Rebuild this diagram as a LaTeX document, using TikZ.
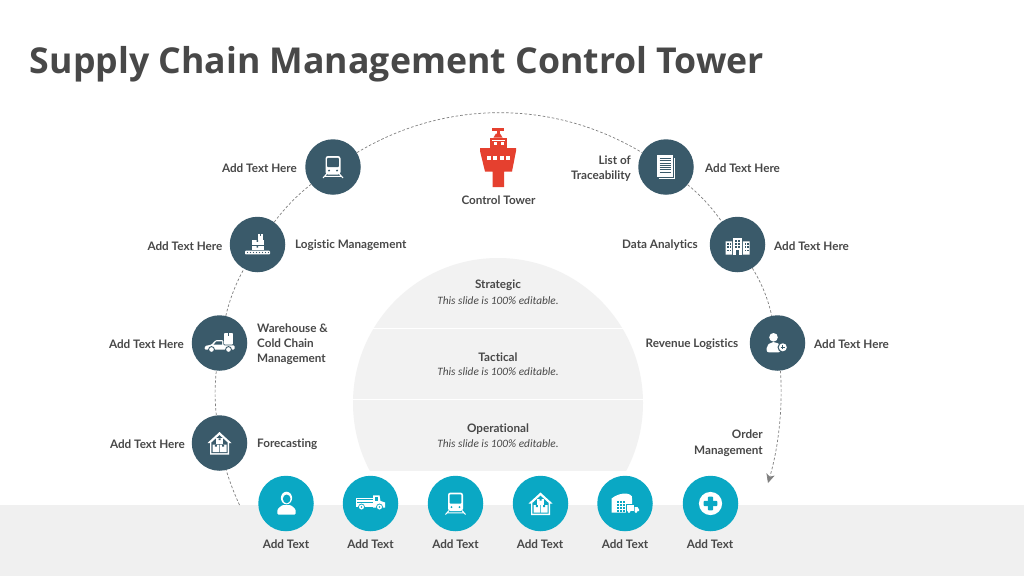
\documentclass[tikz,border=0pt]{standalone}
\usepackage{fontspec}
\setmainfont[Ligatures=CommonOff]{Lato}
\newfontfamily\titlefont{Open Sans}
\newfontfamily\itfont{Carlito}
\usetikzlibrary{arrows.meta}
\definecolor{slate}{HTML}{3A5A6A}
\definecolor{teal2}{HTML}{0AA8C4}
\definecolor{band}{HTML}{F0F0F0}
\definecolor{semi}{HTML}{F2F2F2}
\definecolor{ink}{HTML}{484848}
\definecolor{towerred}{HTML}{E5402F}
\definecolor{dashc}{HTML}{7F7F7F}
\newcommand\ictrain[1]{%
 \fill[white,rounded corners=2.5] (-7.5,-11) rectangle (7.5,7.5);
 \fill[#1,rounded corners=1] (-5.9,-9.2) rectangle (5.9,0.2);
 \fill[#1] (-4,3.6) circle[radius=1.1] (4,3.6) circle[radius=1.1];
 \draw[white,line width=1] (-6.5,7) -- (-10,11) (6.5,7) -- (10,11) (-8,9.3) -- (8,9.3);
}
\newcommand\icpallet[1]{%
 \fill[white,rounded corners=0.8] (-12.5,6.2) rectangle (12.5,9.8);
 \foreach \q in {-10,-7,...,11}{\fill[#1] (\q,8) circle[radius=0.65];}
 \fill[white] (0.2,-10.5) rectangle (5.3,-5);
 \fill[#1] (2,-10.5) rectangle (3.5,-8.5);
 \fill[white] (-5.7,-4.4) rectangle (6,0.8);
 \fill[white] (-5.7,1.4) rectangle (6,5.6);
 \fill[#1] (-1,-4.4) rectangle (0.5,-2.6) (-1,1.4) rectangle (0.5,3.1);
}
\newcommand\iccar[1]{%
 \fill[white,rounded corners=0.8] (4.6,-10) rectangle (13.4,1.5);
 \fill[#1] (8.2,-10) rectangle (9.8,-7.5);
 \fill[white,rounded corners=1] (-15,6.5) -- (-14.5,3) -- (-8,1.6) -- (-4,-2.8) -- (3.8,-2.8) -- (3.8,2.4) -- (15,2.4) -- (15,6.5) -- cycle;
 \fill[#1] (-3,-1.6) -- (-6,1.6) -- (2.6,1.6) -- (2.6,-1.6) -- cycle;
 \fill[#1] (-8,6.5) circle[radius=3.4] (9,6.5) circle[radius=3.4];
 \fill[white] (-8,6.5) circle[radius=2.3] (9,6.5) circle[radius=2.3];
}
\newcommand\ichouse[1]{%
 \fill[white] (0,-11) -- (12,0) -- (9.5,0) -- (9.5,11.5) -- (-9.5,11.5) -- (-9.5,0) -- (-12,0) -- cycle;
 \fill[#1] (0,-7.8) -- (8.2,-0.4) -- (8.2,10.2) -- (-8.2,10.2) -- (-8.2,-0.4) -- cycle;
 \fill[white] (-3.3,-4.6) rectangle (3.3,1);
 \fill[white] (-7,1.7) rectangle (-0.4,9.2) (0.4,1.7) rectangle (7,9.2);
 \fill[#1] (-1,-4.6) rectangle (1,-2.8) (-4.7,1.7) rectangle (-2.7,3.6) (2.7,1.7) rectangle (4.7,3.6);
}
\newcommand\icdoc[1]{%
 \draw[white,line width=0.9] (-7.5,11.3) -- (8.9,11.3) -- (8.9,-9);
 \fill[white] (-8.7,-11.7) rectangle (7.3,10);
 \foreach \q in {-8.7,-6.4,...,7}{\draw[#1,line width=0.7] (-6.4,\q) -- (5,\q);}
}
\newcommand\icbuilding[1]{%
 \fill[white] (-4.6,-6.8) rectangle (4.6,10);
 \fill[white] (-11.8,-3.2) rectangle (-5.4,10) (5.4,-3.2) rectangle (12,10);
 \foreach \a in {-2.8,0.8} \foreach \b in {-4.6,-1.4,1.8}{\fill[#1] (\a,\b) rectangle ++(2,1.9);}
 \foreach \a in {-10.2,-7.6,7,9.6} \foreach \b in {-1.4,1.8,5}{\fill[#1] (\a,\b) rectangle ++(1.5,1.9);}
 \fill[#1] (-1.4,5.6) rectangle (1.4,10);
}
\newcommand\icpersonplus[1]{%
 \fill[white] (-4,-5.7) circle[radius=4.3];
 \fill[white,rounded corners=2] (-10.8,9.3) -- (-10.8,3) -- (-6.5,-0.8) -- (-1.5,-0.8) -- (3,2) -- (3,9.3) -- cycle;
 \fill[#1] (5.3,4.3) circle[radius=5.3];
 \fill[white] (5.3,4.3) circle[radius=4];
 \draw[#1,line width=0.8] (3.2,4.3) -- (7.4,4.3) (5.3,2.2) -- (5.3,6.4);
}
\newcommand\ichood[1]{%
 \fill[white] (0.5,-5.5) ellipse[x radius=5.6, y radius=6.3];
 \fill[#1] (0.7,-4.6) ellipse[x radius=3.8, y radius=4.4];
 \fill[white,rounded corners=1.2] (-8.7,11) -- (-8.7,6) -- (-4,1.6) -- (5,1.6) -- (9.7,6) -- (9.7,11) -- cycle;
}
\newcommand\ictruck[1]{%
 \fill[white] (-14.7,-6) rectangle (2,3);
 \foreach \q in {-3.8,-1.4}{\draw[#1,line width=0.6] (-13.5,\q) -- (2,\q);}
 \fill[white] (2.6,-8.2) -- (9,-8.2) -- (10,-2.5) -- (14.7,-1) -- (14.7,4) -- (2.6,4) -- cycle;
 \fill[#1] (4.2,-6.8) rectangle (7.8,-2.8);
 \fill[#1] (-9,3.5) circle[radius=3.4] (9,3.5) circle[radius=3.4];
 \fill[white] (-9,3.5) circle[radius=2.5] (9,3.5) circle[radius=2.5];
 \fill[#1] (-9,3.5) circle[radius=0.9] (9,3.5) circle[radius=0.9];
}
\newcommand\icdepot[1]{%
 \fill[white] (-13.4,9.2) -- (-13.4,-5) .. controls (-9,-8.8) and (-3,-10) .. (0,-10) .. controls (3,-10) and (8,-8.6) .. (7,-5) -- (7,9.2) -- cycle;
 \foreach \a in {-8,-5,-2} \foreach \b in {-3,0.2,3.4,6.4}{\fill[#1] (\a,\b) rectangle ++(2.1,2.2);}
 \fill[#1] (0.8,0.6) rectangle (14.5,9.8);
 \fill[white] (1.6,1.4) rectangle (9,7.6);
 \fill[white] (9.6,3.6) -- (12.6,3.6) -- (14,6) -- (14,7.6) -- (9.6,7.6) -- cycle;
 \fill[white] (4,8.2) circle[radius=1.5] (11,8.2) circle[radius=1.5];
}
\newcommand\iccross[1]{%
 \fill[white] (0,0) circle[radius=11.6];
 \fill[#1,rounded corners=0.8] (-2.6,-6.8) rectangle (2.6,6.8);
 \fill[#1,rounded corners=0.8] (-6.8,-2.6) rectangle (6.8,2.6);
}
\tikzset{
 hub/.style={circle,fill=slate,minimum size=55.5pt,inner sep=0pt},
 spot/.style={circle,fill=teal2,minimum size=55.5pt,inner sep=0pt},
 lbl/.style={text=ink,font=\fontsize{11.7}{15}\selectfont\bfseries,inner sep=0pt,yshift=-0.7pt},
 lblL/.style={lbl,anchor=east,align=right},
 lblR/.style={lbl,anchor=west,align=left},
 sub/.style={text=ink,font=\fontsize{11.3}{14}\selectfont\itfont\itshape,inner sep=0pt},
 heading/.style={text=ink,font=\fontsize{35.65}{40}\selectfont\titlefont\bfseries,inner sep=0pt},
 rim/.style={draw=dashc,line width=0.7pt,dash pattern=on 2.6pt off 2pt},
}
\begin{document}
\begin{tikzpicture}[x=1pt,y=-1pt]
\useasboundingbox (0,0) rectangle (1024,576);
\fill[white] (0,0) rectangle (1024,576);
\fill[band] (0,505) rectangle (1024,576);
\begin{scope}
 \clip (300,250) rectangle (700,470);
 \fill[semi] (498,403) circle[radius=145];
\end{scope}
\draw[white,line width=0.8pt] (370,328) -- (626,328);
\draw[white,line width=0.8pt] (350,399) -- (646,399);

\node[heading] (title) at (397,64.5) {Supply Chain Management Control Tower};

\node[hub] (n4) at (219.5,443) {};
\node[hub] (n3) at (219.5,343) {};
\node[hub] (n2) at (257.5,244.5) {};
\node[hub] (n1) at (333,167) {};
\node[hub] (m1) at (666,167) {};
\node[hub] (m2) at (737.5,244.5) {};
\node[hub] (m3) at (777.5,343) {};
\coordinate (rimstart) at (239.5,505);
\coordinate (rimend) at (768,483);

\draw[rim] (rimstart) to[bend left=4,looseness=.85] (n4);
\draw[rim] (n4) to[bend left=6.5,looseness=.85] (n3);
\draw[rim] (n3) to[bend left=8,looseness=.85] (n2);
\draw[rim] (n2) to[bend left=7.5,looseness=.85] (n1);
\draw[rim] (n1) to[bend left=31,looseness=.93] (m1);
\draw[rim] (m1) to[bend left=8,looseness=.85] (m2);
\draw[rim] (m2) to[bend left=10,looseness=.85] (m3);
\draw[rim,-{Stealth[inset=2.5pt,length=9pt,width=8.5pt,fill=dashc]}] (m3) to[bend left=10,looseness=.85] (rimend);

\begin{scope}[shift={(n1.center)}]\ictrain{slate}\end{scope}
\begin{scope}[shift={(n2.center)}]\icpallet{slate}\end{scope}
\begin{scope}[shift={(n3.center)}]\iccar{slate}\end{scope}
\begin{scope}[shift={(n4.center)}]\ichouse{slate}\end{scope}
\begin{scope}[shift={(m1.center)}]\icdoc{slate}\end{scope}
\begin{scope}[shift={(m2.center)}]\icbuilding{slate}\end{scope}
\begin{scope}[shift={(m3.center)}]\icpersonplus{slate}\end{scope}

\node[spot] (b1) at (286,503.5) {};
\node[spot] (b2) at (370.5,503.5) {};
\node[spot] (b3) at (455.5,503.5) {};
\node[spot] (b4) at (540.5,503.5) {};
\node[spot] (b5) at (625,503.5) {};
\node[spot] (b6) at (710.5,503.5) {};
\begin{scope}[shift={(b1.center)}]\ichood{teal2}\end{scope}
\begin{scope}[shift={(b2.center)}]\ictruck{teal2}\end{scope}
\begin{scope}[shift={(b3.center)}]\ictrain{teal2}\end{scope}
\begin{scope}[shift={(b4.center)}]\ichouse{teal2}\end{scope}
\begin{scope}[shift={(b5.center)}]\icdepot{teal2}\end{scope}
\begin{scope}[shift={(b6.center)}]\iccross{teal2}\end{scope}

% tower
\fill[towerred] (492,128) rectangle (504,131);
\fill[towerred] (496.5,131) rectangle (499.5,134);
\fill[towerred] (493.5,137.5) -- (496,133.5) -- (500,133.5) -- (502.5,137.5) -- cycle;
\fill[towerred] (490,137.5) rectangle (507,148);
\fill[white] (492,139.5) rectangle (505,141);
\fill[white] (493.5,142) rectangle (496.5,145);
\fill[white] (500.5,142) rectangle (503.5,145);
\fill[towerred] (480,148) -- (516,148) -- (516,151) -- (512,171.5) -- (504,171.5) -- (504,187) -- (492.7,187) -- (492.7,171.5) -- (485,171.5) -- (480,151) -- cycle;
\foreach \q in {486.5,493,499.5,506}{\fill[white] (\q,155.5) rectangle ++(4,4);}

\node[lbl] (tower) at (498.5,199) {Control Tower};
\node[lblL] (t1) at (297,167.5) {Add Text Here};
\node[lblL] (t2) at (222.5,245) {Add Text Here};
\node[lblL] (t3) at (184,343.5) {Add Text Here};
\node[lblL] (t4) at (185,443.5) {Add Text Here};
\node[lblR] (t5) at (295,245) {Logistic Management};
\node[lblR] (t6) at (257,343.5) {Warehouse \&\\Cold Chain\\Management};
\node[lblR] (t7) at (257,443.5) {Forecasting};
\node[lblL] (t8) at (631,167.5) {List of\\Traceability};
\node[lblR] (t9) at (705,167.5) {Add Text Here};
\node[lblL] (t10) at (698,244.5) {Data Analytics};
\node[lblR] (t11) at (774,245) {Add Text Here};
\node[lblL] (t12) at (738.5,343.5) {Revenue Logistics};
\node[lblR] (t13) at (814,343.5) {Add Text Here};
\node[lblL] (t14) at (763,442.5) {Order\\Management};

\node[lbl] (s1) at (498,285) {Strategic};
\node[sub] (s1b) at (498,300.5) {This slide is 100\% editable.};
\node[lbl] (s2) at (498,356.5) {Tactical};
\node[sub] (s2b) at (498,372) {This slide is 100\% editable.};
\node[lbl] (s3) at (498,428) {Operational};
\node[sub] (s3b) at (498,443.5) {This slide is 100\% editable.};

\node[lbl] (c1) at (286,543.5) {Add Text};
\node[lbl] (c2) at (370.5,543.5) {Add Text};
\node[lbl] (c3) at (455.5,543.5) {Add Text};
\node[lbl] (c4) at (540,543.5) {Add Text};
\node[lbl] (c5) at (625,543.5) {Add Text};
\node[lbl] (c6) at (710,543.5) {Add Text};
\end{tikzpicture}
\end{document}
